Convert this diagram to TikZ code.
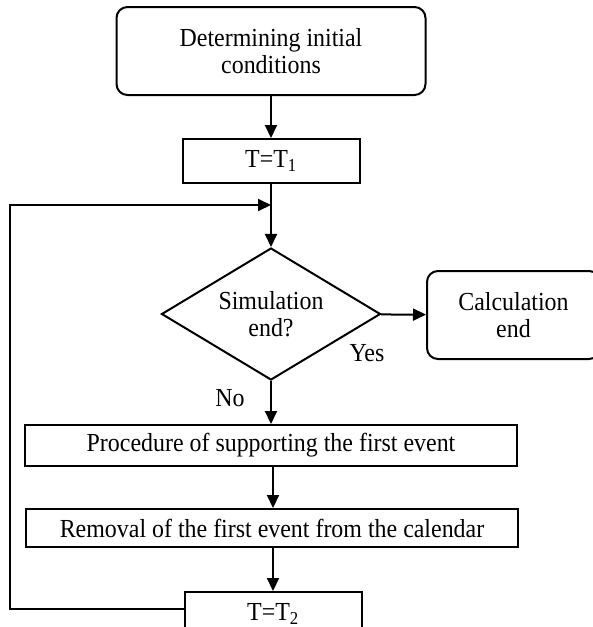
\documentclass[tikz,border=0pt]{standalone}
\usepackage{fontspec}
\setmainfont[FakeStretch=0.92]{Liberation Serif}
\usetikzlibrary{shapes.geometric,arrows.meta}
\begin{document}
\begin{tikzpicture}[x=1pt,y=-1pt,
  every node/.style={font=\fontsize{26}{27}\selectfont},
  box/.style={draw,line width=2pt,inner sep=0pt,align=center},
  roundbox/.style={box,rounded corners=11pt},
  decision/.style={draw,line width=2pt,diamond,inner sep=0pt,shape aspect=1.66,
    minimum width=219pt,minimum height=132pt,align=center},
  flow/.style={line width=2pt,-{Triangle[length=13pt,width=12pt]}},
  lbl/.style={inner sep=0pt}]
\useasboundingbox (0,0) rectangle (593,627);

% process blocks
\node[roundbox,minimum width=309pt,minimum height=88pt] (init) at (271,51)
  {Determining initial\\conditions};
\node[box,minimum width=177pt,minimum height=44pt] (t1) at (271,161) {T=T\textsubscript{1}};
\node[decision] (dec) at (271,314) {Simulation\\end?};
\node[roundbox,minimum width=173pt,minimum height=88pt] (calc) at (513.5,315)
  {Calculation\\end};
\node[box,minimum width=492pt,minimum height=41pt] (proc) at (271,445.5)
  {Procedure of supporting the first event};
\node[box,minimum width=492pt,minimum height=38pt] (rem) at (272,528)
  {Removal of the first event from the calendar};
\node[box,minimum width=177pt,minimum height=44pt] (t2) at (273,614) {T=T\textsubscript{2}};

% branch labels
\node[lbl] (yes) at (367,353) {Yes};
\node[lbl] (no) at (230,398) {No};

% loop-back corner points
\coordinate (join) at (271,205);
\coordinate (lft) at (10,609);

% connectors
\draw[flow] (init) -- (t1);
\draw[flow] (t1) -- (dec);
\draw[flow] (dec) -- (calc);
\draw[flow] (dec) -- (proc);
\draw[flow] (proc.south -| t2.north) -- (rem.north -| t2.north);
\draw[flow] (rem.south -| t2.north) -- (t2.north);
\draw[flow] ([yshift=5pt]t2.west) -- (lft) |- (join);
\end{tikzpicture}
\end{document}
